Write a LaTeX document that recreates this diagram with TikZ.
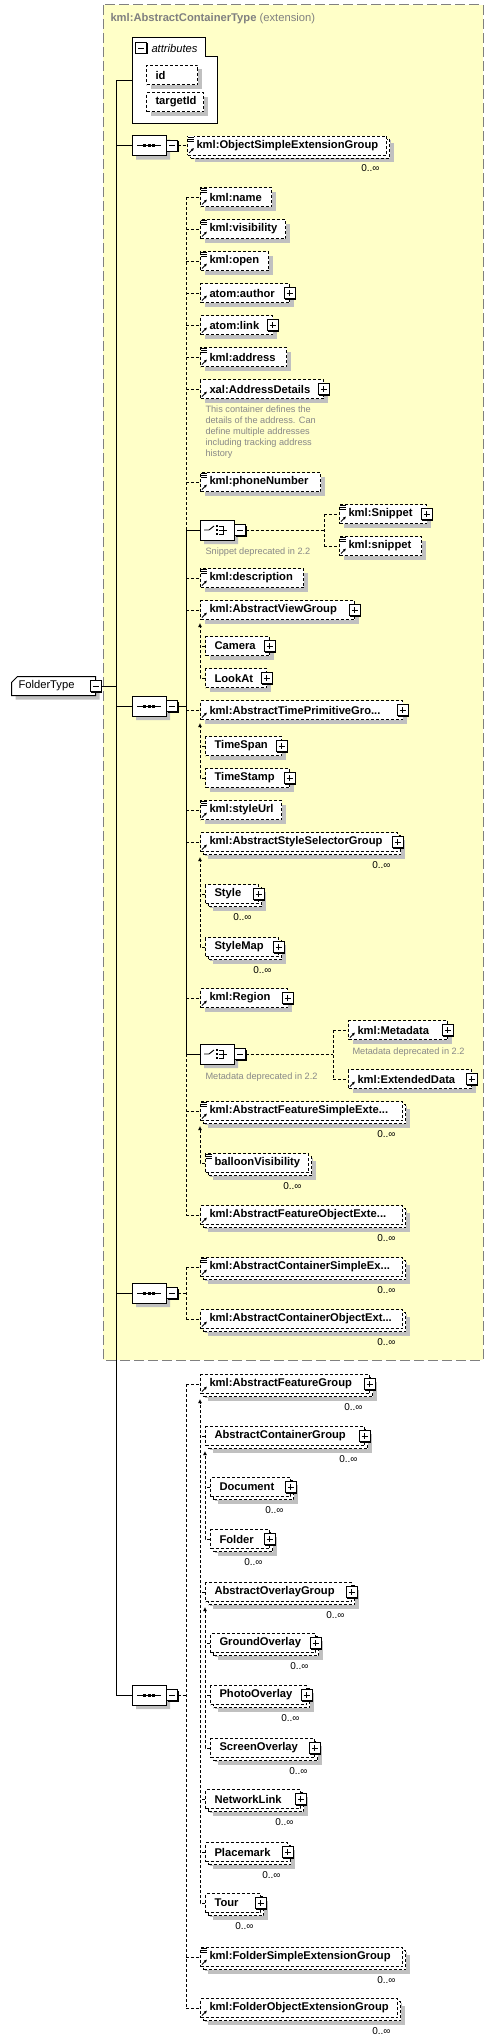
\documentclass[tikz,border=0pt]{standalone}
\usepackage{fontspec}
\setmainfont{Liberation Sans}
\usetikzlibrary{shapes.misc,shadows,arrows.meta}

\definecolor{extfill}{RGB}{255,255,200}
\definecolor{extline}{RGB}{128,128,128}
\definecolor{shade}{RGB}{192,192,192}
\definecolor{notegray}{RGB}{136,136,136}

\newcommand{\elemfont}{\fontsize{11.2}{13}\selectfont\bfseries}
\newcommand{\notefont}{\fontsize{9.2}{11}\selectfont}
\newcommand{\occfont}{\fontsize{10}{11}\selectfont}

\tikzset{
  dashline/.style={dash pattern=on 3pt off 2pt},
  shade4/.style={drop shadow={shadow xshift=4pt, shadow yshift=-4pt, fill=shade, opacity=1}},
  elem/.style={draw, fill=white, dashline, shade4, anchor=west, minimum height=19pt,
    inner xsep=9pt, inner ysep=0pt, text width=#1pt, align=left, font=\elemfont},
  rep/.style={drop shadow={shadow xshift=7pt, shadow yshift=-7pt, fill=shade, opacity=1},
    general shadow={shadow xshift=3pt, shadow yshift=-3pt, fill=white, draw=black, dashline}},
  compositor/.style={chamfered rectangle, chamfered rectangle sep=5pt, draw, fill=white, shade4,
    minimum width=34pt, minimum height=20pt, inner sep=0pt},
  rootbox/.style={chamfered rectangle, chamfered rectangle corners=north west,
    chamfered rectangle sep=3pt, draw, fill=white, shade4, anchor=west, minimum height=19pt,
    inner xsep=4pt, inner ysep=0pt, text width=70pt, align=left,
    font=\fontsize{11.2}{13}\selectfont},
  subst/.style={dashline, -{Latex[length=4pt,width=4pt]}},
  occ/.style={font=\occfont, inner sep=0pt, anchor=east},
  note/.style={font=\notefont, text=notegray, inner sep=0pt, anchor=west, align=left},
  pics/plusbox/.style={code={
    \fill (-4.5,-4.5) rectangle (6.5,6.5);
    \filldraw[fill=white, line width=0.9pt] (-5.5,-5.5) rectangle (5.5,5.5);
    \draw[line width=0.9pt] (-3,0) -- (3,0) (0,-3) -- (0,3);
  }},
  pics/minusbox/.style={code={
    \fill (-4.5,-4.5) rectangle (6.5,6.5);
    \filldraw[fill=white, line width=0.9pt] (-5.5,-5.5) rectangle (5.5,5.5);
    \draw[line width=0.9pt] (-3,0) -- (3,0);
  }},
  pics/seqmark/.style={code={
    \draw[line width=0.9pt] (-12,0) -- (12,0);
    \foreach \d in {-4.5,0,4.5} \fill (\d-1.5,-1.5) rectangle (\d+1.5,1.5);
  }},
  pics/choicemark/.style={code={
    \draw[line width=0.9pt] (-13,0) -- (-8,0) -- (-3,-4);
    \foreach \d in {-4,0,4} \fill (-1.2,\d-1.2) rectangle (1.2,\d+1.2);
    \draw[line width=0.9pt] (2,-4) -- (6,-4) -- (6,4) -- (2,4) (2,0) -- (10,0);
  }},
  pics/simpleicon/.style={code={
    \fill[white] (0.5,0.5) rectangle (7,7);
    \draw[line width=0.8pt] (1,1.5) -- (7,1.5) (1,3.5) -- (7,3.5) (1,5.5) -- (7,5.5);
  }},
  pics/refarrow/.style={code={
    \draw[line width=1pt, -{Latex[length=3pt,width=3pt]}] (2,-2.5) -- (7,-7.5);
  }}
}

\begin{document}
\begin{tikzpicture}[x=1pt, y=-1pt, line width=1pt]
  \useasboundingbox (0,0) rectangle (494,2042);

  % extension frame
  \draw[extline, fill=extfill, dash pattern=on 10pt off 4pt] (103,5) rectangle (483,1360);
  \node[anchor=west, text=extline, font=\fontsize{11.2}{13}\selectfont, inner sep=0pt] (exttitle)
    at (110,19) {\textbf{kml:AbstractContainerType} (extension)};

  % attributes
  \node[minimum width=84pt, minimum height=84pt, inner sep=0pt, anchor=north west] (attrs) at (132,38) {};
  \draw[fill=white] (attrs.north west) -- ([xshift=-12pt]attrs.north east) |- ([yshift=-19pt]attrs.north east)
    -- (attrs.south east) -- (attrs.south west) -- cycle;
  \node[anchor=west, font=\fontsize{11.2}{13}\selectfont\itshape, inner sep=0pt] (attrtitle) at (151,48) {attributes};
  \pic at (141,48) {minusbox};
  \node[elem=33] (id) at (146,75) {id};
  \node[elem=39] (targetid) at (146,102) {targetId};

  % root
  \node[rootbox] (ftype) at (11,686) {FolderType};
  \pic at ([xshift=-0.5pt]ftype.east) {minusbox};

  % sequence 1
  \node[compositor] (seq1) at (149,145.5) {};
  \node[elem=181, rep] (osext) at (187,145.5) {kml:ObjectSimpleExtensionGroup};

  % sequence 2
  \node[compositor] (seq2) at (149,706) {};
  \node[elem=53] (name) at (200,197) {kml:name};
  \node[elem=67] (visibility) at (200,229) {kml:visibility};
  \node[elem=50] (open) at (200,261) {kml:open};
  \node[elem=71] (author) at (200,293) {atom:author};
  \node[elem=54] (link) at (200,325) {atom:link};
  \node[elem=68] (address) at (200,357) {kml:address};
  \node[elem=105] (xal) at (200,389) {xal:AddressDetails};
  \node[note, anchor=north west] (xalnote) at (205,405) {This container defines the\\details of the address. Can\\define multiple addresses\\including tracking address\\history};
  \node[elem=102] (phone) at (200,482) {kml:phoneNumber};
  \node[compositor] (choice1) at (217,530) {};
  \node[note] (snipnote) at (205,552) {Snippet deprecated in 2.2};
  \node[elem=69] (bigsnippet) at (339,514) {kml:Snippet};
  \node[elem=64] (snippet) at (339,546) {kml:snippet};
  \node[elem=85] (description) at (200,578) {kml:description};
  \node[elem=136] (view) at (200,610) {kml:AbstractViewGroup};
  \node[elem=46] (camera) at (205,646) {Camera};
  \node[elem=43] (lookat) at (205,678) {LookAt};
  \node[elem=184] (time) at (200,710) {kml:AbstractTimePrimitiveGro...};
  \node[elem=58] (timespan) at (205,746) {TimeSpan};
  \node[elem=66] (timestamp) at (205,778) {TimeStamp};
  \node[elem=63] (styleurl) at (200,810) {kml:styleUrl};
  \node[elem=179, rep] (stylesel) at (200,842) {kml:AbstractStyleSelectorGroup};
  \node[elem=35, rep] (style) at (205,894) {Style};
  \node[elem=55, rep] (stylemap) at (205,947) {StyleMap};
  \node[elem=69] (region) at (200,998) {kml:Region};
  \node[compositor] (choice2) at (217,1054) {};
  \node[note] (metanote) at (205,1077) {Metadata deprecated in 2.2};
  \node[elem=81] (metadata) at (348,1030) {kml:Metadata};
  \node[note] (metanote2) at (352,1052) {Metadata deprecated in 2.2};
  \node[elem=105] (extdata) at (348,1079) {kml:ExtendedData};
  \node[elem=184, rep] (fsimple) at (200,1111) {kml:AbstractFeatureSimpleExte...};
  \node[elem=85, rep] (balloon) at (205,1163) {balloonVisibility};
  \node[elem=184, rep] (fobject) at (200,1215) {kml:AbstractFeatureObjectExte...};

  % sequence 3
  \node[compositor] (seq3) at (149,1293) {};
  \node[elem=184, rep] (csimple) at (200,1267) {kml:AbstractContainerSimpleEx...};
  \node[elem=184, rep] (cobject) at (200,1319) {kml:AbstractContainerObjectExt...};

  % sequence 4
  \node[compositor] (seq4) at (149,1695) {};
  \node[elem=151, rep] (featgrp) at (200,1384) {kml:AbstractFeatureGroup};
  \node[elem=141, rep] (contgrp) at (205,1436) {AbstractContainerGroup};
  \node[elem=62, rep] (document) at (210,1487) {Document};
  \node[elem=41, rep] (folder) at (210,1539) {Folder};
  \node[elem=128, rep] (ovlgrp) at (205,1592) {AbstractOverlayGroup};
  \node[elem=87, rep] (ground) at (210,1643) {GroundOverlay};
  \node[elem=78, rep] (photo) at (210,1695) {PhotoOverlay};
  \node[elem=86, rep] (screen) at (210,1748) {ScreenOverlay};
  \node[elem=77, rep] (netlink) at (205,1799) {NetworkLink};
  \node[elem=64, rep] (placemark) at (205,1852) {Placemark};
  \node[elem=37, rep] (tour) at (205,1903) {Tour};
  \node[elem=184, rep] (fdsimple) at (200,1957) {kml:FolderSimpleExtensionGroup};
  \node[elem=179, rep] (fdobject) at (200,2008) {kml:FolderObjectExtensionGroup};

  % compositor marks
  \foreach \s in {seq1,seq2,seq3,seq4}{
    \pic at (\s) {seqmark};
    \pic at ([xshift=5.5pt]\s.east) {minusbox};
  }
  \foreach \s in {choice1,choice2}{
    \pic at (\s) {choicemark};
    \pic at ([xshift=5.5pt]\s.east) {minusbox};
  }

  % element marks
  \foreach \n in {osext,name,visibility,open,address,phone,bigsnippet,snippet,description,styleurl,fsimple,balloon,csimple,fdsimple}
    \pic at (\n.north west) {simpleicon};
  \foreach \n in {osext,name,visibility,open,author,link,address,xal,phone,bigsnippet,snippet,description,view,time,styleurl,stylesel,region,metadata,extdata,fsimple,fobject,csimple,cobject,featgrp,fdsimple,fdobject}
    \pic at (\n.south west) {refarrow};
  \foreach \n in {author,link,xal,bigsnippet,view,camera,lookat,time,timespan,timestamp,stylesel,style,stylemap,region,metadata,extdata,featgrp,contgrp,document,folder,ovlgrp,ground,photo,screen,netlink,placemark,tour}
    \pic at ([xshift=-0.5pt]\n.east) {plusbox};
  \foreach \n in {osext,stylesel,style,stylemap,fsimple,balloon,fobject,csimple,cobject,featgrp,contgrp,document,folder,ovlgrp,ground,photo,screen,netlink,placemark,tour,fdsimple,fdobject}
    \node[occ] (occ-\n) at ([xshift=-7pt,yshift=-13pt]\n.south east) {0..∞};

  % trunk
  \coordinate (trunk) at (116,80);
  \draw (trunk) -- (attrs.west |- trunk);
  \draw (trunk) |- (seq4.west);
  \foreach \s in {seq1,seq2,seq3} \draw (trunk |- \s.west) -- (\s.west);
  \draw ([xshift=5pt]ftype.east) -- (trunk |- ftype.east);

  % sequence wiring
  \coordinate (bar2) at (186,706);
  \coordinate (bar3) at (186,1293);
  \coordinate (bar4) at (186,1695);
  \coordinate (cbar1) at (324,530);
  \coordinate (cbar2) at (333,1054);
  \draw[dashline] ([xshift=11pt]seq1.east) -- (osext.west);
  \draw ([xshift=11pt]seq2.east) -- (bar2);
  \draw[dashline] (bar2 |- name.west) -- (bar2 |- choice1.west);
  \draw (bar2 |- choice1.west) -- (bar2 |- choice2.west);
  \draw[dashline] (bar2 |- choice2.west) -- (bar2 |- fobject.west);
  \foreach \n in {name,visibility,open,author,link,address,xal,phone,description,view,time,styleurl,stylesel,region,fsimple,fobject}
    \draw[dashline] (bar2 |- \n.west) -- (\n.west);
  \foreach \n in {choice1,choice2} \draw (bar2 |- \n.west) -- (\n.west);

  \draw[dashline] ([xshift=11pt]choice1.east) -- (cbar1);
  \draw[dashline] (cbar1 |- bigsnippet.west) -- (cbar1 |- snippet.west);
  \foreach \n in {bigsnippet,snippet} \draw[dashline] (cbar1 |- \n.west) -- (\n.west);
  \draw[dashline] ([xshift=11pt]choice2.east) -- (cbar2);
  \draw[dashline] (cbar2 |- metadata.west) -- (cbar2 |- extdata.west);
  \foreach \n in {metadata,extdata} \draw[dashline] (cbar2 |- \n.west) -- (\n.west);

  \draw[dashline] ([xshift=11pt]seq3.east) -- (bar3);
  \draw[dashline] (bar3 |- csimple.west) -- (bar3 |- cobject.west);
  \foreach \n in {csimple,cobject} \draw[dashline] (bar3 |- \n.west) -- (\n.west);

  \draw[dashline] ([xshift=11pt]seq4.east) -- (bar4);
  \draw[dashline] (bar4 |- featgrp.west) -- (bar4 |- fdobject.west);
  \foreach \n in {featgrp,fdsimple,fdobject} \draw[dashline] (bar4 |- \n.west) -- (\n.west);

  % substitution groups
  \draw[subst] (lookat.west) -| ([yshift=-3pt]view.south west);
  \draw[subst] (timestamp.west) -| ([yshift=-3pt]time.south west);
  \draw[subst] (stylemap.west) -| ([yshift=-5pt]stylesel.south west);
  \draw[subst] (balloon.west) -| ([yshift=-5pt]fsimple.south west);
  \draw[subst] (tour.west) -| ([yshift=-5pt]featgrp.south west);
  \draw[subst] (folder.west) -| ([yshift=-5pt]contgrp.south west);
  \draw[subst] (screen.west) -| ([yshift=-5pt]ovlgrp.south west);
  \foreach \n/\h in {camera/view, timespan/time, style/stylesel, contgrp/featgrp, ovlgrp/featgrp, netlink/featgrp, placemark/featgrp, document/contgrp, ground/ovlgrp, photo/ovlgrp}
    \draw[dashline] (\n.west) -- (\n.west -| \h.west);
\end{tikzpicture}
\end{document}
